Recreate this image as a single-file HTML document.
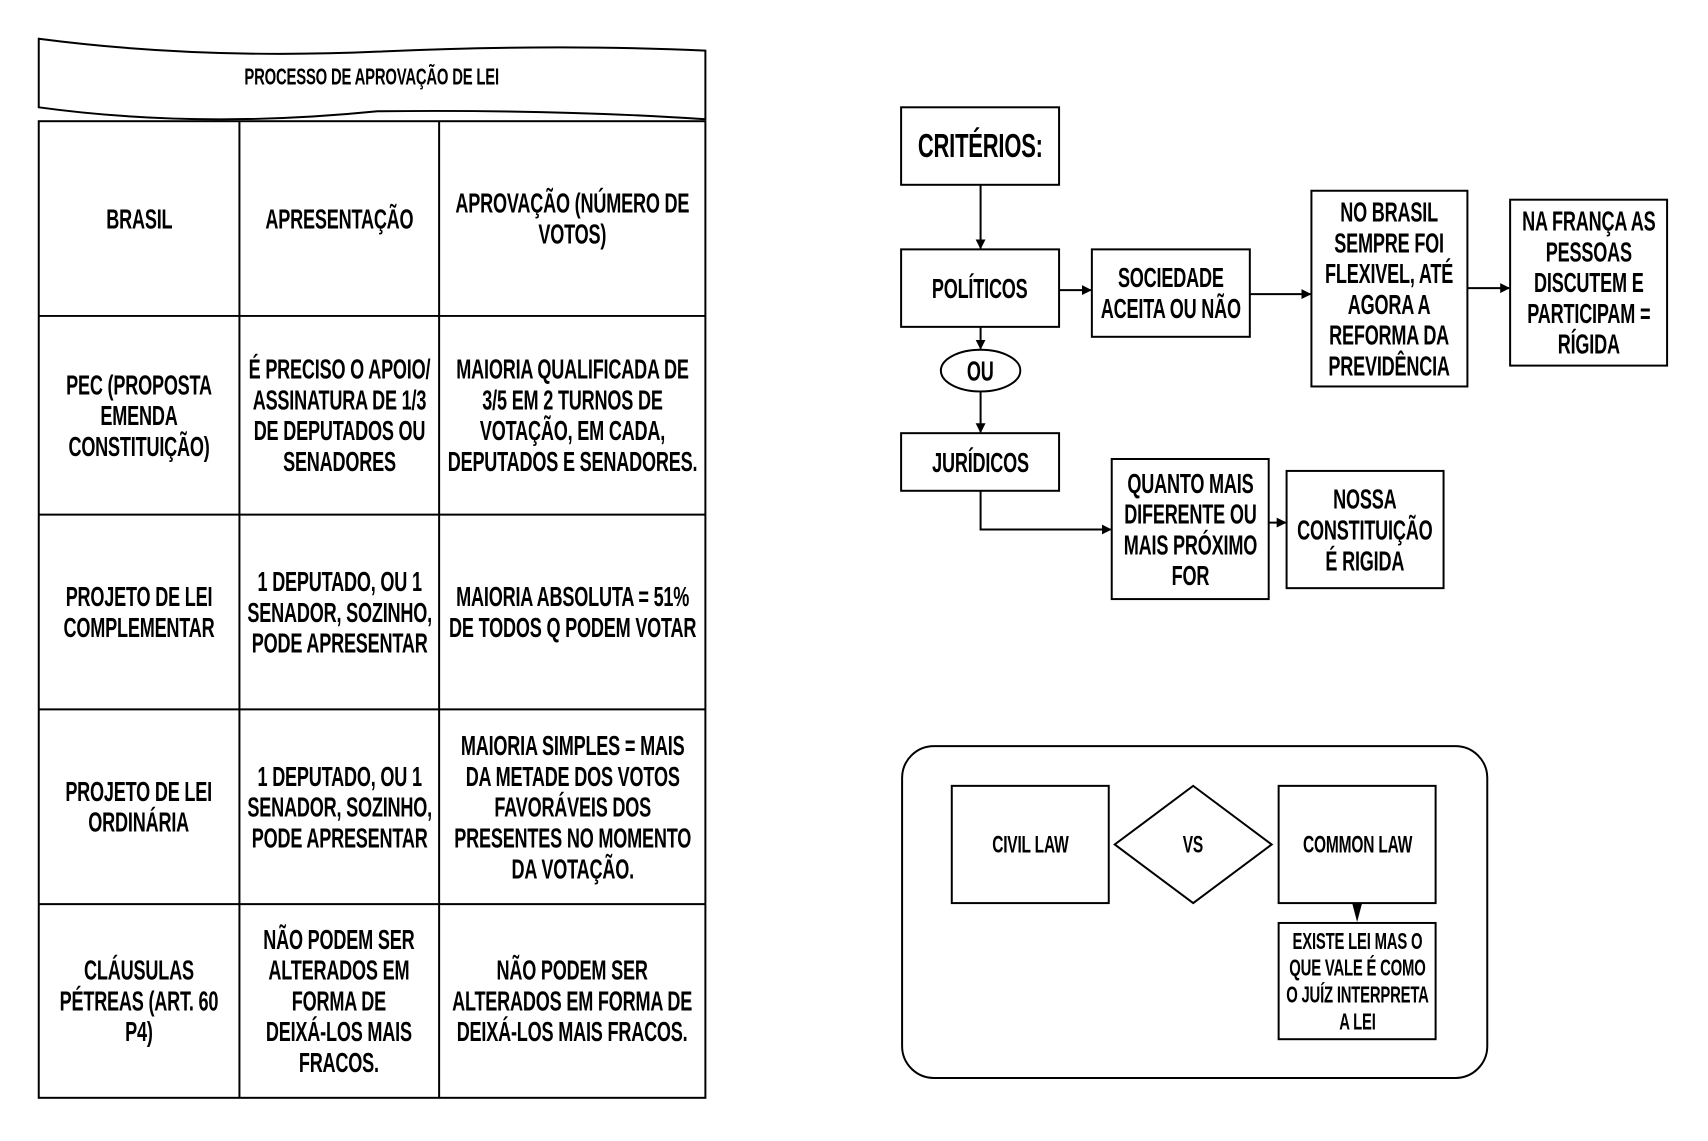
<!DOCTYPE html>
<html><head><meta charset="utf-8"><style>
html,body{margin:0;padding:0;background:#fff;}
body{width:1708px;height:1141px;position:relative;overflow:hidden;font-family:"Liberation Sans",sans-serif;font-weight:bold;color:#000;}
#w{position:absolute;left:0;top:0;width:1708px;height:1141px;transform:scale(0.9935);transform-origin:0 0;}
.t{position:absolute;display:flex;align-items:center;justify-content:center;text-align:center;font-size:28px;line-height:31px;white-space:nowrap;letter-spacing:-0.3px;}
.t span{display:inline-block;transform:scaleX(0.65);}
svg{position:absolute;left:0;top:0;}
</style></head><body><div id="w">
<svg width="1708" height="1141" viewBox="0 0 1708 1141">
<defs><marker id="a" markerWidth="10" markerHeight="10" refX="9" refY="5" orient="auto" markerUnits="userSpaceOnUse"><path d="M0,0 L10,5 L0,10 z" fill="#000"/></marker></defs>
<g fill="none" stroke="#000" stroke-width="2">
<path d="M39,39 Q200,60 380,52 Q560,44 710,51 L710,120 Q560,110 380,112 Q200,130 39,108 Z"/>
<rect x="39" y="122" width="671" height="983"/>
<line x1="241" y1="122" x2="241" y2="1105"/>
<line x1="442" y1="122" x2="442" y2="1105"/>
<line x1="39" y1="318" x2="710" y2="318"/>
<line x1="39" y1="518" x2="710" y2="518"/>
<line x1="39" y1="714" x2="710" y2="714"/>
<line x1="39" y1="910" x2="710" y2="910"/>
<rect x="907" y="108" width="159" height="78"/>
<rect x="907" y="251" width="159" height="78"/>
<rect x="1099" y="251" width="159" height="88"/>
<rect x="1320" y="192" width="157" height="197"/>
<rect x="1520" y="201" width="158" height="167"/>
<ellipse cx="987" cy="373" rx="40" ry="21"/>
<rect x="907" y="436" width="159" height="58"/>
<rect x="1119" y="462" width="158" height="141"/>
<rect x="1295" y="474" width="158" height="118"/>
<rect x="908" y="751" width="589" height="334" rx="32"/>
<rect x="958" y="791" width="158" height="118"/>
<path d="M1201,791 L1280,850 L1201,909 L1122,850 Z"/>
<rect x="1287" y="791" width="158" height="118"/>
<rect x="1287" y="929" width="158" height="117"/>
<line x1="987" y1="186" x2="987" y2="250" marker-end="url(#a)"/>
<line x1="987" y1="329" x2="987" y2="351" marker-end="url(#a)"/>
<line x1="987" y1="394" x2="987" y2="435" marker-end="url(#a)"/>
<line x1="1066" y1="292" x2="1098" y2="292" marker-end="url(#a)"/>
<line x1="1258" y1="296" x2="1319" y2="296" marker-end="url(#a)"/>
<line x1="1477" y1="290" x2="1519" y2="290" marker-end="url(#a)"/>
<polyline points="987,494 987,533 1118,533" marker-end="url(#a)"/>
<line x1="1277" y1="526" x2="1294" y2="526" marker-end="url(#a)"/>
</g>
<path d="M1361,909 L1371,909 L1366,928 Z" fill="#000"/>
</svg>
<div class="t" style="left:39px;top:55px;width:671px;height:45px;font-size:23px;"><span>PROCESSO DE APROVAÇÃO DE LEI</span></div>
<div class="t" style="left:39px;top:122px;width:202px;height:196px;"><span>BRASIL</span></div>
<div class="t" style="left:241px;top:122px;width:201px;height:196px;"><span>APRESENTAÇÃO</span></div>
<div class="t" style="left:442px;top:122px;width:268px;height:196px;"><span>APROVAÇÃO (NÚMERO DE<br>VOTOS)</span></div>
<div class="t" style="left:39px;top:318px;width:202px;height:200px;"><span>PEC (PROPOSTA<br>EMENDA<br>CONSTITUIÇÃO)</span></div>
<div class="t" style="left:241px;top:318px;width:201px;height:200px;"><span>É PRECISO O APOIO/<br>ASSINATURA DE 1/3<br>DE DEPUTADOS OU<br>SENADORES</span></div>
<div class="t" style="left:442px;top:318px;width:268px;height:200px;"><span>MAIORIA QUALIFICADA DE<br>3/5 EM 2 TURNOS DE<br>VOTAÇÃO, EM CADA,<br>DEPUTADOS E SENADORES.</span></div>
<div class="t" style="left:39px;top:518px;width:202px;height:196px;"><span>PROJETO DE LEI<br>COMPLEMENTAR</span></div>
<div class="t" style="left:241px;top:518px;width:201px;height:196px;"><span>1 DEPUTADO, OU 1<br>SENADOR, SOZINHO,<br>PODE APRESENTAR</span></div>
<div class="t" style="left:442px;top:518px;width:268px;height:196px;"><span>MAIORIA ABSOLUTA = 51%<br>DE TODOS Q PODEM VOTAR</span></div>
<div class="t" style="left:39px;top:714px;width:202px;height:196px;"><span>PROJETO DE LEI<br>ORDINÁRIA</span></div>
<div class="t" style="left:241px;top:714px;width:201px;height:196px;"><span>1 DEPUTADO, OU 1<br>SENADOR, SOZINHO,<br>PODE APRESENTAR</span></div>
<div class="t" style="left:442px;top:714px;width:268px;height:196px;"><span>MAIORIA SIMPLES = MAIS<br>DA METADE DOS VOTOS<br>FAVORÁVEIS DOS<br>PRESENTES NO MOMENTO<br>DA VOTAÇÃO.</span></div>
<div class="t" style="left:39px;top:910px;width:202px;height:195px;"><span>CLÁUSULAS<br>PÉTREAS (ART. 60<br>P4)</span></div>
<div class="t" style="left:241px;top:910px;width:201px;height:195px;"><span>NÃO PODEM SER<br>ALTERADOS EM<br>FORMA DE<br>DEIXÁ-LOS MAIS<br>FRACOS.</span></div>
<div class="t" style="left:442px;top:910px;width:268px;height:195px;"><span>NÃO PODEM SER<br>ALTERADOS EM FORMA DE<br>DEIXÁ-LOS MAIS FRACOS.</span></div>

<div class="t" style="left:907px;top:108px;width:159px;height:78px;font-size:34px;"><span>CRITÉRIOS:</span></div>
<div class="t" style="left:907px;top:251px;width:159px;height:78px;"><span>POLÍTICOS</span></div>
<div class="t" style="left:1099px;top:251px;width:159px;height:88px;"><span>SOCIEDADE<br>ACEITA OU NÃO</span></div>
<div class="t" style="left:1320px;top:192px;width:157px;height:197px;"><span>NO BRASIL<br>SEMPRE FOI<br>FLEXIVEL, ATÉ<br>AGORA A<br>REFORMA DA<br>PREVIDÊNCIA</span></div>
<div class="t" style="left:1520px;top:201px;width:158px;height:167px;"><span>NA FRANÇA AS<br>PESSOAS<br>DISCUTEM E<br>PARTICIPAM =<br>RÍGIDA</span></div>
<div class="t" style="left:947px;top:352px;width:80px;height:42px;"><span>OU</span></div>
<div class="t" style="left:907px;top:436px;width:159px;height:58px;"><span>JURÍDICOS</span></div>
<div class="t" style="left:1119px;top:462px;width:158px;height:141px;"><span>QUANTO MAIS<br>DIFERENTE OU<br>MAIS PRÓXIMO<br>FOR</span></div>
<div class="t" style="left:1295px;top:474px;width:158px;height:118px;"><span>NOSSA<br>CONSTITUIÇÃO<br>É RIGIDA</span></div>
<div class="t" style="left:958px;top:791px;width:158px;height:118px;font-size:24px;"><span>CIVIL LAW</span></div>
<div class="t" style="left:1122px;top:791px;width:158px;height:118px;font-size:24px;"><span>VS</span></div>
<div class="t" style="left:1287px;top:791px;width:158px;height:118px;font-size:24px;"><span>COMMON LAW</span></div>
<div class="t" style="left:1287px;top:929px;width:158px;height:117px;font-size:23px;line-height:27px;"><span>EXISTE LEI MAS O<br>QUE VALE É COMO<br>O JUÍZ INTERPRETA<br>A LEI</span></div>
</div></body></html>
